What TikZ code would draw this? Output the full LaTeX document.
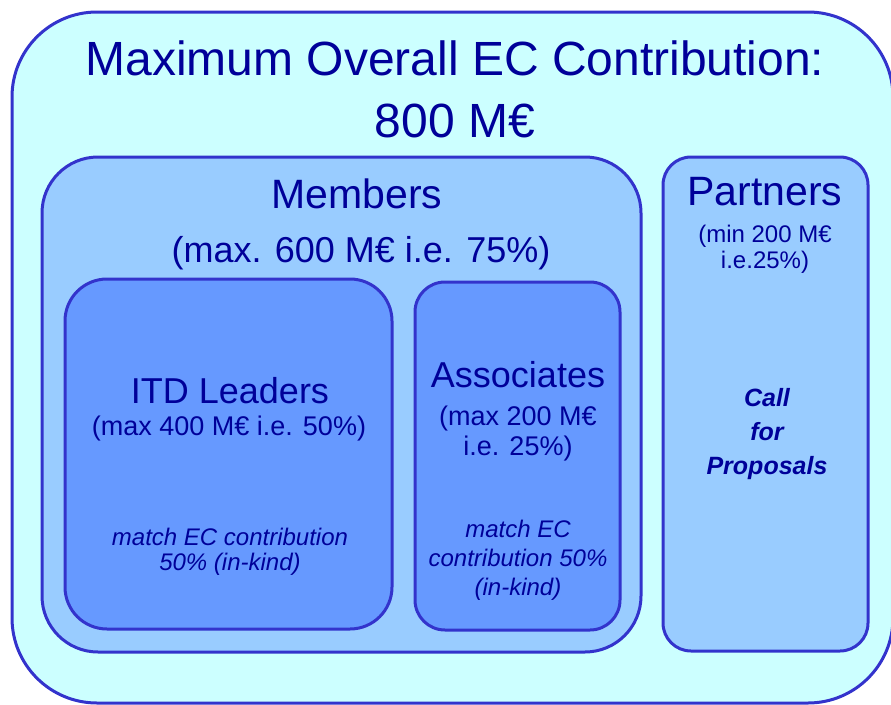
\documentclass[tikz,border=0pt]{standalone}
\usepackage{fontspec}
\setmainfont{Liberation Sans}
\definecolor{edgeblue}{HTML}{3333CC}
\definecolor{textblue}{HTML}{000099}
\definecolor{outerfill}{HTML}{CCFFFF}
\definecolor{midfill}{HTML}{99CCFF}
\definecolor{innerfill}{HTML}{6699FF}
\newcommand{\fsz}[2]{\fontsize{#1}{#2}\selectfont}
\tikzset{
  panel/.style={draw=edgeblue, line width=3pt, inner sep=0pt, outer sep=0pt, anchor=north west},
  label/.style={text=textblue, anchor=base, align=center, inner sep=0pt}
}
\begin{document}
\begin{tikzpicture}[x=1pt,y=-1pt]
\useasboundingbox (0,0) rectangle (891,704);
% boxes
\node (outer) [panel, fill=outerfill, rounded corners=85pt, minimum width=881pt, minimum height=691pt] at (12,12) {};
\node (members) [panel, fill=midfill, rounded corners=56pt, minimum width=599pt, minimum height=495pt] at (42,157) {};
\node (partners) [panel, fill=midfill, rounded corners=28pt, minimum width=205pt, minimum height=494pt] at (663,157) {};
\node (leaders) [panel, fill=innerfill, rounded corners=42pt, minimum width=327pt, minimum height=350pt] at (65,279) {};
\node (associates) [panel, fill=innerfill, rounded corners=30pt, minimum width=205pt, minimum height=348pt] at (415,282) {};
% texts (multi-line nodes sit on their last baseline)
\node (title) [label, font=\fsz{48}{62}] at (455,137) {Maximum Overall EC Contribution:\\800 M€};
\node (memberstitle) [label, font=\fsz{41}{50}] at (357,208) {Members};
\node (membersnote) [label, font=\fsz{36}{44}] at (361,262) {(max. 600 M€ i.e. 75\%)};
\node (partnerstitle) [label, font=\fsz{41}{50}] at (765,205) {Partners};
\node (partnersnote) [label, font=\fsz{24}{26}] at (765,268) {(min 200 M€\\i.e.25\%)};
\node (call) [label, font=\fsz{25}{34}\bfseries\itshape] at (767,474) {Call\\for\\Proposals};
\node (leaderstitle) [label, font=\fsz{36}{44}] at (230,403) {ITD Leaders};
\node (leadersnote) [label, font=\fsz{27}{32}] at (229,435) {(max 400 M€ i.e. 50\%)};
\node (leadersmatch) [label, font=\fsz{24}{25}\itshape] at (230,570) {match EC contribution\\50\% (in-kind)};
\node (associatestitle) [label, font=\fsz{36}{44}] at (518,387) {Associates};
\node (associatesnote) [label, font=\fsz{27}{30}] at (518,455) {(max 200 M€\\i.e. 25\%)};
\node (associatesmatch) [label, font=\fsz{24}{29}\itshape] at (518,595) {match EC\\contribution 50\%\\(in-kind)};
\end{tikzpicture}
\end{document}
